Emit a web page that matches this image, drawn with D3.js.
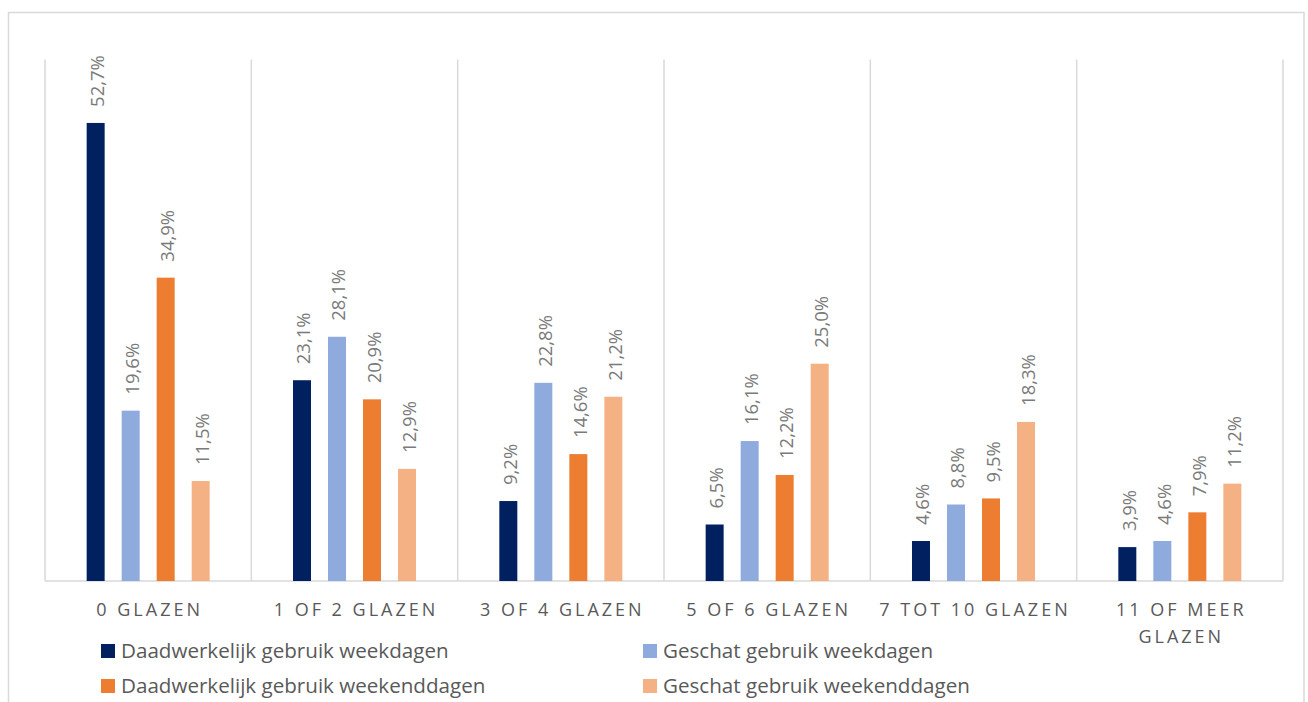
<!DOCTYPE html>
<html>
<head>
<meta charset="utf-8">
<script src="https://cdn.jsdelivr.net/npm/d3@7"></script>
<style>
  html, body { margin: 0; padding: 0; background: #fff; }
  svg { display: block; }
</style>
</head>
<body>
<svg id="chart" width="1308" height="702"></svg>
<script>
const categories = ["0 glazen", "1 of 2 glazen", "3 of 4 glazen", "5 of 6 glazen", "7 tot 10 glazen", "11 of meer glazen"];
const seriesNames = [
  "Daadwerkelijk gebruik weekdagen",
  "Geschat gebruik weekdagen",
  "Daadwerkelijk gebruik weekenddagen",
  "Geschat gebruik weekenddagen"
];
const actualWeekdays = [52.7, 23.1, 9.2, 6.5, 4.6, 3.9];
const estimatedWeekdays = [19.6, 28.1, 22.8, 16.1, 8.8, 4.6];
const actualWeekend = [34.9, 20.9, 14.6, 12.2, 9.5, 7.9];
const estimatedWeekend = [11.5, 12.9, 21.2, 25.0, 18.3, 11.2];
const colors = ["#002060", "#8faadc", "#ed7d31", "#f4b183"];

const seriesValues = [actualWeekdays, estimatedWeekdays, actualWeekend, estimatedWeekend];
const fmt = v => d3.format(".1f")(v).replace(".", ",") + "%";

const svg = d3.select("#chart");
const plot = { left: 45, right: 1283, top: 59.5, bottom: 581 };

// chart frame
svg.append("rect")
  .attr("x", 8.5).attr("y", 12.5)
  .attr("width", 1295.5).attr("height", 720)
  .attr("fill", "#fff").attr("stroke", "#d9d9d9").attr("stroke-width", 1.5);

const x = d3.scaleBand().domain(categories).range([plot.left, plot.right]).paddingInner(0).paddingOuter(0);
const xs = d3.scaleBand().domain(d3.range(4)).range([0, x.bandwidth()]).paddingInner(0.486).paddingOuter(1.19);
const y = d3.scaleLinear().domain([0, 60]).range([plot.bottom, plot.top]);

// vertical category separators
const seps = categories.map(c => x(c)).concat([plot.right]);
svg.append("g").selectAll("line").data(seps).join("line")
  .attr("x1", d => d).attr("x2", d => d)
  .attr("y1", plot.top).attr("y2", plot.bottom)
  .attr("stroke", "#d9d9d9").attr("stroke-width", 1.5);

// bottom axis line
svg.append("line")
  .attr("x1", plot.left).attr("x2", plot.right)
  .attr("y1", plot.bottom).attr("y2", plot.bottom)
  .attr("stroke", "#d9d9d9").attr("stroke-width", 1.5);

// bars
const groups = svg.append("g").selectAll("g").data(categories).join("g")
  .attr("transform", d => `translate(${x(d)},0)`);

groups.each(function(cat, ci) {
  const g = d3.select(this);
  seriesValues.forEach((vals, si) => {
    const v = vals[ci];
    g.append("rect")
      .attr("x", xs(si)).attr("width", xs.bandwidth())
      .attr("y", y(v)).attr("height", plot.bottom - y(v))
      .attr("fill", colors[si]);
    const cx = xs(si) + xs.bandwidth() / 2;
    g.append("text")
      .attr("transform", `translate(${cx + 1},${y(v) - 16}) rotate(-90)`)
      .attr("text-anchor", "start")
      .attr("dominant-baseline", "central")
      .attr("font-family", "Open Sans, sans-serif")
      .attr("font-size", 18.5)
      .attr("fill", "#7a7a7a")
      .text(fmt(v));
  });
});

// category labels (uppercase, spaced, wrapped)
const ls = 3;
const catG = svg.append("g");
categories.forEach(c => {
  const cx = x(c) + x.bandwidth() / 2;
  const words = c.toUpperCase().split(" ");
  const t = catG.append("text")
    .attr("font-family", "Open Sans, sans-serif")
    .attr("font-size", 18)
    .attr("letter-spacing", ls)
    .attr("fill", "#595959")
    .attr("text-anchor", "middle");
  let lines = [];
  let cur = [];
  const tmp = t.append("tspan");
  words.forEach(w => {
    const test = cur.concat([w]).join(" ");
    tmp.text(test);
    if (tmp.node().getComputedTextLength() > x.bandwidth() - 6 && cur.length) {
      lines.push(cur.join(" "));
      cur = [w];
    } else cur.push(w);
  });
  lines.push(cur.join(" "));
  tmp.remove();
  lines.forEach((ln, i) => {
    t.append("tspan").attr("x", cx + ls / 2).attr("y", 616 + i * 27).text(ln);
  });
});

// legend
const legendItems = [
  { i: 0, x: 101, y: 644 },
  { i: 1, x: 643, y: 644 },
  { i: 2, x: 101, y: 679 },
  { i: 3, x: 643, y: 679 }
];
const lg = svg.append("g").selectAll("g").data(legendItems).join("g")
  .attr("transform", d => `translate(${d.x},${d.y})`);
lg.append("rect").attr("width", 14).attr("height", 14).attr("fill", d => colors[d.i]);
lg.append("text")
  .attr("x", 20).attr("y", 14)
  .attr("font-family", "Open Sans, sans-serif")
  .attr("font-size", 20.6)
  .attr("fill", "#595959")
  .text(d => seriesNames[d.i]);
</script>
</body>
</html>
